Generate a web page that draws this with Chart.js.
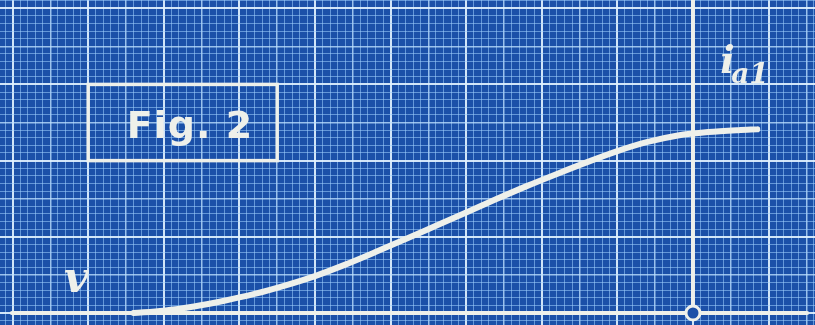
<!DOCTYPE html>
<html>
<head>
<meta charset="utf-8">
<style>
  html, body { margin: 0; padding: 0; background: #1b50a8; overflow: hidden; }
  #wrap { width: 815px; height: 325px; }
  canvas { display: block; }
</style>
<script src="https://cdn.jsdelivr.net/npm/chart.js@4.4.0/dist/chart.umd.min.js"></script>
</head>
<body>
<div id="wrap"><canvas id="c" width="815" height="325"></canvas></div>
<script>
// ---- data (grid units: 1 = one small square) ----
const curveX = [16, 20, 24, 28, 32, 36, 40, 44, 48, 52, 56, 60, 64, 68, 72, 76, 80, 84, 88, 92, 96, 98.5];
const curveY = [0, 0.3, 0.85, 1.6, 2.5, 3.6, 4.85, 6.35, 8.0, 9.7, 11.45, 13.2, 14.95, 16.65, 18.25, 19.8, 21.25, 22.45, 23.3, 23.75, 24.0, 24.1];
const baselineX = [-0.1, 105.1];
const baselineY = [0, 0];
const markerX = [90];           // position of i_a1 ordinate
const markerY = [0];
const markerTopY = [42];
const figTitle = "Fig. 2";
const labelV = "v";
const labelI = "i";
const labelISub = "a1";

const INK = '#eef0ea';
const BG = '#1b50a8';

const pts = (xs, ys) => xs.map((x, i) => ({x, y: ys[i]}));

function gridColor(ctx) {
  const v = ctx.tick ? ctx.tick.value : 0;
  const r = Math.round(v);
  if (Math.abs(v - r) > 1e-6) return 'rgba(0,0,0,0)';
  if (r % 10 === 0) return 'rgba(225,242,255,0.92)';
  if (r % 5 === 0) return 'rgba(190,225,255,0.78)';
  return 'rgba(160,210,255,0.55)';
}
function gridWidth(ctx) {
  const v = ctx.tick ? ctx.tick.value : 0;
  const r = Math.round(v);
  if (r % 10 === 0) return 2;
  if (r % 5 === 0) return 1.5;
  return 1;
}

const annotations = {
  id: 'annotations',
  afterDatasetsDraw(chart) {
    const {ctx, scales: {x, y}} = chart;
    ctx.save();
    ctx.strokeStyle = INK;
    ctx.fillStyle = INK;
    // Fig. 2 box
    ctx.lineWidth = 3.5;
    const bx0 = x.getPixelForValue(10), bx1 = x.getPixelForValue(35);
    const by0 = y.getPixelForValue(30), by1 = y.getPixelForValue(20);
    ctx.strokeRect(bx0, by0, bx1 - bx0, by1 - by0);
    ctx.font = 'bold 38px "DejaVu Sans"';
    ctx.textAlign = 'center';
    ctx.textBaseline = 'alphabetic';
    ctx.letterSpacing = '1px';
    ctx.fillText(figTitle, x.getPixelForValue(23.4) + 0.5, y.getPixelForValue(23.0));
    ctx.letterSpacing = '0px';
    // v label
    ctx.font = 'italic bold 42px "DejaVu Serif"';
    ctx.fillText(labelV, x.getPixelForValue(8.4), y.getPixelForValue(2.75));
    // i_a1 label
    ctx.textAlign = 'left';
    ctx.font = 'italic bold 38px "DejaVu Serif"';
    const ix = x.getPixelForValue(93.6), iy = y.getPixelForValue(31.5);
    ctx.fillText(labelI, ix, iy);
    ctx.font = 'italic bold 28px "DejaVu Serif"';
    ctx.fillText(labelISub, ix + 11, iy + 10);
    ctx.restore();
  }
};

new Chart(document.getElementById('c'), {
  type: 'line',
  data: {
    datasets: [
      {
        data: pts(markerX, markerY),
        showLine: false,
        pointRadius: 7,
        pointBorderWidth: 3,
        pointBorderColor: INK,
        pointBackgroundColor: BG,
        clip: false,
        order: 0
      },
      {
        data: [{x: markerX[0], y: 0.95}, {x: markerX[0], y: markerTopY[0]}],
        borderColor: INK,
        borderWidth: 4,
        pointRadius: 0,
        order: 1
      },
      {
        data: pts(curveX, curveY),
        borderColor: INK,
        borderWidth: 6,
        borderCapStyle: 'round',
        cubicInterpolationMode: 'monotone',
        pointRadius: 0,
        order: 2
      },
      {
        data: pts(baselineX, baselineY),
        borderColor: INK,
        borderWidth: 4,
        borderCapStyle: 'round',
        pointRadius: 0,
        order: 3
      }
    ]
  },
  options: {
    responsive: false,
    animation: false,
    layout: { padding: 0, autoPadding: false },
    plugins: { legend: { display: false }, tooltip: { enabled: false } },
    scales: {
      x: {
        type: 'linear', min: -1.667, max: 106.14,
        ticks: { display: false, stepSize: 1, includeBounds: false },
        grid: { drawTicks: false, color: gridColor, lineWidth: gridWidth },
        border: { display: false }
      },
      y: {
        type: 'linear', min: -1.575, max: 41.08,
        ticks: { display: false, stepSize: 1, includeBounds: false },
        grid: { drawTicks: false, color: gridColor, lineWidth: gridWidth },
        border: { display: false }
      }
    }
  },
  plugins: [annotations]
});
</script>
</body>
</html>
